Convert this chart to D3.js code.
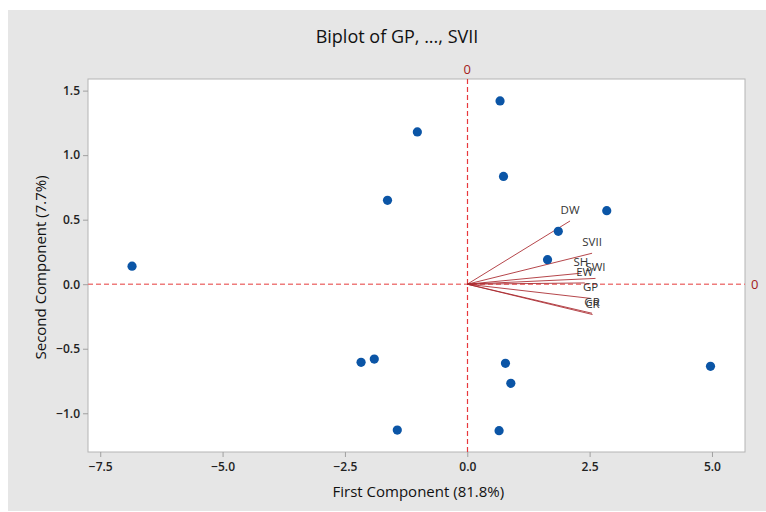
<!DOCTYPE html>
<html>
<head>
<meta charset="utf-8">
<script src="https://cdn.jsdelivr.net/npm/d3@7"></script>
<style>
  body { margin: 0; background: #fff; }
  text { font-family: "Open Sans", "Noto Sans", sans-serif; }
</style>
</head>
<body>
<div id="chart-area"></div>
<script>
// scores (first / second component)
const pc1 = [-6.85, -1.02, -1.63, 0.67, 0.74, 1.86, 1.64, 2.85, -2.17, -1.90, -1.43, 0.65, 0.78, 0.89, 4.97];
const pc2 = [0.14, 1.18, 0.65, 1.42, 0.835, 0.41, 0.19, 0.57, -0.605, -0.58, -1.13, -1.135, -0.613, -0.768, -0.636];

// loadings (scaled)
const variables = ["DW", "SVII", "SH", "SWI", "EW", "GP", "GR", "CR"];
const loadX = [2.10, 2.55, 2.32, 2.62, 2.40, 2.52, 2.55, 2.56];
const loadY = [0.49, 0.24, 0.085, 0.045, 0.01, -0.11, -0.225, -0.235];

const xTicks = [-7.5, -5.0, -2.5, 0.0, 2.5, 5.0];
const yTicks = [-1.0, -0.5, 0.0, 0.5, 1.0, 1.5];

const W = 766, H = 512;
const margin = {top: 79, right: 21, bottom: 60, left: 88};
const width = W - margin.left - margin.right;
const height = H - margin.top - margin.bottom;

let svg = d3.select("#chart-area")
  .append("svg")
  .attr("width", W)
  .attr("height", H);

// fondo gris
svg.append("rect")
  .attr("x", 8).attr("y", 10)
  .attr("width", W - 8).attr("height", H - 11)
  .attr("fill", "#e6e6e6");

svg.append("text")
  .attr("x", 397).attr("y", 43)
  .attr("text-anchor", "middle")
  .attr("font-size", "18px")
  .attr("font-weight", 500)
  .attr("fill", "#111")
  .text("Biplot of GP, ..., SVII");

let group = svg.append("g")
  .attr("transform", `translate(${margin.left}, ${margin.top})`);

let x = d3.scaleLinear().domain([-7.75, 5.675]).range([0, width]);
let y = d3.scaleLinear().domain([-1.3, 1.59]).range([height, 0]);

group.append("rect")
  .attr("width", width).attr("height", height)
  .attr("fill", "#fff")
  .attr("stroke", "#b4b4b4");

// ejes
const axisBottom = d3.axisBottom(x).tickValues(xTicks).tickFormat(d3.format(".1f")).tickSize(5).tickSizeOuter(0);
const axisLeft = d3.axisLeft(y).tickValues(yTicks).tickFormat(d3.format(".1f")).tickSize(5).tickSizeOuter(0);

const xGroup = group.append("g").attr("transform", `translate(0, ${height})`).call(axisBottom);
const yGroup = group.append("g").call(axisLeft);

[xGroup, yGroup].forEach((g) => {
  g.select(".domain").remove();
  g.selectAll("line").attr("stroke", "#a0a0a0");
  g.selectAll("text").attr("font-size", "12px").attr("fill", "#222")
    .attr("font-weight", 600)
    .attr("font-family", "\"Open Sans\", sans-serif");
});
xGroup.selectAll("text").attr("dy", "0.9em");

group.append("text")
  .attr("x", x(-1.0)).attr("y", height + 45)
  .attr("text-anchor", "middle")
  .attr("font-size", "15px")
  .attr("font-weight", 500)
  .attr("fill", "#111")
  .text("First Component (81.8%)");

group.append("text")
  .attr("transform", "rotate(-90)")
  .attr("x", -y(0.13)).attr("y", -42)
  .attr("text-anchor", "middle")
  .attr("font-size", "15px")
  .attr("font-weight", 500)
  .attr("fill", "#111")
  .text("Second Component (7.7%)");

// lineas de referencia en 0
group.append("line")
  .attr("x1", Math.round(x(0)) + 0.5).attr("x2", Math.round(x(0)) + 0.5)
  .attr("y1", 0).attr("y2", height)
  .attr("stroke", "#e8383c").attr("stroke-width", 1.2)
  .attr("stroke-dasharray", "5,3");

group.append("line")
  .attr("x1", 0).attr("x2", width)
  .attr("y1", y(0)).attr("y2", y(0))
  .attr("stroke", "#ee7c7c").attr("stroke-width", 1.5)
  .attr("stroke-dasharray", "5,3");

group.append("text")
  .attr("x", x(0)).attr("y", -5)
  .attr("text-anchor", "middle")
  .attr("font-size", "13px")
  .attr("fill", "#a32020")
  .text("0");

group.append("text")
  .attr("x", width + 6).attr("y", y(0)).attr("dy", "0.35em")
  .attr("font-size", "13px")
  .attr("fill", "#a32020")
  .text("0");

// vectores
const loads = variables.map((v, i) => ({name: v, lx: loadX[i], ly: loadY[i]}));

group.selectAll(".vec")
  .data(loads)
  .enter().append("line")
  .attr("class", "vec")
  .attr("x1", x(0)).attr("y1", y(0))
  .attr("x2", (d) => x(d.lx))
  .attr("y2", (d) => y(d.ly))
  .attr("stroke", "#a8262c")
  .attr("stroke-opacity", 0.85)
  .attr("stroke-width", 1);

group.selectAll(".vlabel")
  .data(loads)
  .enter().append("text")
  .attr("class", "vlabel")
  .attr("x", (d) => x(d.lx))
  .attr("y", (d) => y(d.ly) - 7)
  .attr("text-anchor", "middle")
  .attr("font-size", "11.5px")
  .attr("fill", "#333")
  .text((d) => d.name);

// puntos
const scores = pc1.map((v, i) => ({a: v, b: pc2[i]}));

group.selectAll("circle")
  .data(scores)
  .enter().append("circle")
  .attr("cx", (d) => x(d.a))
  .attr("cy", (d) => y(d.b))
  .attr("r", 4.6)
  .attr("fill", "#0b55a6");
</script>
</body>
</html>
